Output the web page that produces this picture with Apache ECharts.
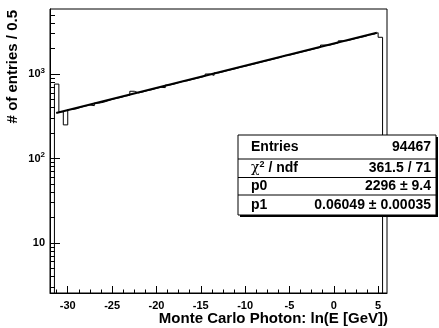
<!DOCTYPE html>
<html>
<head>
<meta charset="utf-8">
<script src="https://cdn.jsdelivr.net/npm/echarts@6/dist/echarts.min.js"></script>
<style>
html,body{margin:0;padding:0;background:#fff;}
#chart{width:439px;height:328px;}
</style>
</head>
<body>
<div id="chart"></div>
<script>
// ---- data ----
const binStart = -31.5;
const binWidth = 0.5;
const counts = [760, 357, 250, 380, 388, 405, 418, 430, 422, 452,
  462, 480, 500, 515, 528, 548, 560, 625, 598, 614,
  636, 652, 676, 697, 690, 740, 760, 790, 820, 832,
  860, 885, 912, 942, 1000, 965, 1030, 1060, 1096, 1128,
  1160, 1205, 1233, 1273, 1310, 1352, 1395, 1436, 1480, 1526,
  1575, 1660, 1670, 1720, 1776, 1830, 1885, 1944, 2005, 2065,
  2200, 2190, 2262, 2330, 2470, 2476, 2550, 2632, 2710, 2780,
  2900, 2950, 3080, 2720];
const fitX = [-31.3, 4.85];
const fitY = [346, 3079];
const xMajorTicks = [-30, -25, -20, -15, -10, -5, 0, 5];
const xMinorTicks = [-31.25, -28.75, -27.5, -26.25, -23.75, -22.5, -21.25, -18.75, -17.5, -16.25,
  -13.75, -12.5, -11.25, -8.75, -7.5, -6.25, -3.75, -2.5, -1.25, 1.25, 2.5, 3.75];
const yMajorTicks = [10, 100, 1000];
const yMinorTicks = [3, 4, 5, 6, 7, 8, 9, 20, 30, 40, 50, 60, 70, 80, 90,
  200, 300, 400, 500, 600, 700, 800, 900, 2000, 3000, 4000, 5000];
const statLabels = ['Entries', '{c|χ}{s|2}{b| / ndf}', 'p0', 'p1'];
const statValues = ['94467', '361.5 / 71', '2296 ± 9.4', '0.06049 ± 0.00035'];
const xTitle = 'Monte Carlo Photon: ln(E [GeV])';
const yTitle = '# of entries / 0.5';

// ---- build ----
const FONT = '"Liberation Sans", Arial, Helvetica, sans-serif';
const histData = [[binStart, 1]];
counts.forEach((c, i) => histData.push([binStart + i * binWidth, c]));
const xEnd = binStart + counts.length * binWidth;
histData.push([xEnd, counts[counts.length - 1]]);
histData.push([xEnd, 1]);
const fitData = fitX.map((x, i) => [x, fitY[i]]);

const xMin = -32, xMax = 6, yMin = 2.56, yMax = 5880;

const chart = echarts.init(document.getElementById('chart'), null, {renderer: 'canvas'});

const boxX = 238, boxY = 135, boxW = 198, boxH = 80;
const rowSep = [159, 177.5, 195];
const rowY = [147.5, 168.5, 186.5, 205.5];
const statChildren = [
  {type: 'rect', z: 100, shape: {x: boxX + 2, y: boxY + 2, width: boxW, height: boxH}, style: {fill: '#000'}},
  {type: 'rect', z: 101, shape: {x: boxX, y: boxY, width: boxW, height: boxH}, style: {fill: '#fff', stroke: '#000', lineWidth: 1}}
];
rowSep.forEach(y => statChildren.push({type: 'line', z: 102, shape: {x1: boxX, y1: y, x2: boxX + boxW, y2: y}, style: {stroke: '#000', lineWidth: 1}}));
statLabels.forEach((t, i) => statChildren.push({
  type: 'text', z: 103, x: 251, y: rowY[i],
  style: {text: t, font: 'bold 14px ' + FONT, fill: '#000', align: 'left', verticalAlign: 'middle', textAlign: 'left', textVerticalAlign: 'middle',
    rich: {c: {fontFamily: 'DejaVu Serif', fontSize: 14, fontWeight: 'normal', fontStyle: 'normal'},
           s: {fontSize: 9, fontWeight: 'bold', fontFamily: FONT, padding: [0, 0, 7, 0]},
           b: {fontSize: 14, fontWeight: 'bold', fontFamily: FONT}}}
}));
statValues.forEach((t, i) => statChildren.push({
  type: 'text', z: 103, x: 431, y: rowY[i],
  style: {text: t, font: 'bold 14px ' + FONT, fill: '#000', align: 'right', verticalAlign: 'middle', textAlign: 'right', textVerticalAlign: 'middle'}
}));

function yLabel(v) {
  const e = Math.round(Math.log10(v));
  if (e === 1) return '10';
  return '10{s|' + e + '}';
}

const option = {
  animation: false,
  backgroundColor: '#fff',
  grid: {left: 50, right: 52, top: 9, bottom: 35, show: true, borderColor: '#000', borderWidth: 1, backgroundColor: '#fff'},
  xAxis: [
    {type: 'value', min: xMin, max: xMax, position: 'bottom',
     axisLine: {show: true, onZero: false, lineStyle: {color: '#000', width: 1}},
     axisTick: {show: true, inside: true, length: 7, customValues: xMajorTicks, lineStyle: {color: '#000'}},
     axisLabel: {show: true, customValues: xMajorTicks, color: '#000', fontFamily: FONT, fontWeight: 'bold', fontSize: 11, margin: 7},
     splitLine: {show: false}},
    {type: 'value', min: xMin, max: xMax, position: 'bottom',
     axisLine: {show: false, onZero: false},
     axisTick: {show: true, inside: true, length: 3.5, customValues: xMinorTicks, lineStyle: {color: '#000'}},
     axisLabel: {show: false}, splitLine: {show: false}}
  ],
  yAxis: [
    {type: 'log', logBase: 10, min: yMin, max: yMax, position: 'left',
     axisLine: {show: true, onZero: false, lineStyle: {color: '#000', width: 1}},
     axisTick: {show: true, inside: true, length: 10, customValues: yMajorTicks, lineStyle: {color: '#000'}},
     axisLabel: {show: true, customValues: yMajorTicks, formatter: yLabel, color: '#000', fontFamily: FONT, fontWeight: 'bold', fontSize: 11, margin: 5,
       rich: {s: {fontSize: 8, fontWeight: 'bold', fontFamily: FONT, color: '#000', padding: [0, 0, 7, 0]}}},
     splitLine: {show: false}},
    {type: 'log', logBase: 10, min: yMin, max: yMax, position: 'left',
     axisLine: {show: false, onZero: false},
     axisTick: {show: true, inside: true, length: 5, customValues: yMinorTicks, lineStyle: {color: '#000'}},
     axisLabel: {show: false}, splitLine: {show: false}}
  ],
  series: [
    {type: 'line', name: 'hist', xAxisIndex: 0, yAxisIndex: 0, data: histData, step: 'end', showSymbol: false, symbol: 'none',
     lineStyle: {color: '#000', width: 1}, clip: true, z: 2},
    {type: 'line', name: 'fit', xAxisIndex: 0, yAxisIndex: 0, data: fitData, showSymbol: false, symbol: 'none',
     lineStyle: {color: '#000', width: 2}, clip: true, z: 3}
  ],
  graphic: [
    {type: 'group', z: 100, children: statChildren},
    {type: 'text', x: 388, y: 319, style: {text: xTitle, font: 'bold 15px ' + FONT, fill: '#000', align: 'right', verticalAlign: 'middle', textAlign: 'right', textVerticalAlign: 'middle'}},
    {type: 'text', x: 13, y: 10, rotation: Math.PI / 2, style: {text: yTitle, font: 'bold 15px ' + FONT, fill: '#000', align: 'right', verticalAlign: 'middle', textAlign: 'right', textVerticalAlign: 'middle'}}
  ]
};
chart.setOption(option);
</script>
</body>
</html>
